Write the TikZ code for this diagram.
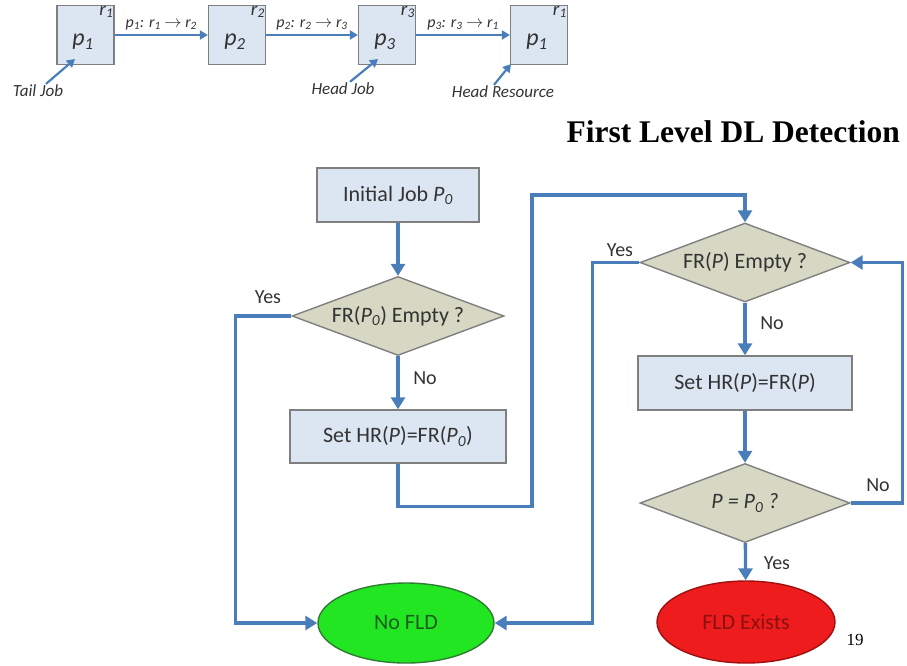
\documentclass[tikz,border=0pt]{standalone}
\usepackage{fontspec}
\setmainfont{Carlito}
\newfontfamily\titlefont{Liberation Serif}
\usetikzlibrary{arrows.meta,shapes.geometric,calc}
\definecolor{cblue}{HTML}{4A7EBB}
\definecolor{boxfill}{HTML}{DCE6F2}
\definecolor{boxline}{HTML}{7F7F7F}
\definecolor{dfill}{HTML}{D6D8C3}
\definecolor{gfill}{HTML}{22E622}
\definecolor{gline}{HTML}{2E7D32}
\definecolor{gtext}{HTML}{1B5E20}
\definecolor{rfill}{HTML}{EE1C1C}
\definecolor{rline}{HTML}{A01010}
\definecolor{rtext}{HTML}{8B1010}
\definecolor{ttext}{HTML}{333333}
\newcommand\isub[2]{\textit{#1}\textsubscript{\textit{#2}}}
\begin{document}
\begin{tikzpicture}[x=1pt,y=-1pt,
  pbox/.style={draw=boxline,fill=boxfill,line width=1.2pt,minimum width=57pt,minimum height=59pt,inner sep=0pt},
  fbox/.style={draw=boxline,fill=boxfill,line width=1.4pt,inner sep=0pt,text=ttext,font=\fontsize{22}{24}\selectfont},
  dbox/.style={diamond,draw=boxline,fill=dfill,line width=1.4pt,inner sep=0pt,minimum width=210pt,minimum height=79pt,shape aspect=2.7,text=ttext,font=\fontsize{22}{24}\selectfont},
  term/.style={ellipse,line width=1.4pt,inner sep=0pt,font=\fontsize{22}{24}\selectfont},
  conn/.style={draw=cblue,line width=3.3pt,-{Triangle[length=12pt,width=14pt]}},
  thin/.style={draw=cblue,line width=2.2pt,-{Triangle[length=8pt,width=9pt]}},
  lbl/.style={font=\fontsize{20}{24}\selectfont,text=ttext,inner sep=1pt},
  small/.style={font=\fontsize{16}{19}\selectfont\itshape,text=ttext,inner sep=1pt},
  rl/.style={font=\fontsize{19}{20}\selectfont,text=ttext,inner sep=1pt,anchor=north east},
  pl/.style={font=\fontsize{24}{26}\selectfont,text=ttext,inner sep=0pt}]
\useasboundingbox (0,0) rectangle (907,665);

% ---- top chain ----
\node[pbox] (b1) at (85.5,35) {};
\node[pbox] (b2) at (237,35) {};
\node[pbox] (b3) at (387,35) {};
\node[pbox] (b4) at (539,35) {};
\node[pl] (p1) at (83,42) {\isub{p}{1}};
\node[pl] (p2) at (235,42) {\isub{p}{2}};
\node[pl] (p3) at (385,42) {\isub{p}{3}};
\node[pl] (p4) at (537,42) {\isub{p}{1}};
\node[rl] (r1) at (b1.north east) {\isub{r}{1}};
\node[rl] (r2) at (b2.north east) {\isub{r}{2}};
\node[rl] (r3) at (b3.north east) {\isub{r}{3}};
\node[rl] (r4) at (b4.north east) {\isub{r}{1}};
\draw[thin] (b1.east) -- node[small,above=3pt] (l12) {\isub{p}{1}: \isub{r}{1} $\rightarrow$ \isub{r}{2}} (b2.west);
\draw[thin] (b2.east) -- node[small,above=3pt] (l23) {\isub{p}{2}: \isub{r}{2} $\rightarrow$ \isub{r}{3}} (b3.west);
\draw[thin] (b3.east) -- node[small,above=3pt] (l34) {\isub{p}{3}: \isub{r}{3} $\rightarrow$ \isub{r}{1}} (b4.west);
\node[small,font=\fontsize{17}{19}\selectfont\itshape] (tj) at (38,91) {Tail Job};
\node[small,font=\fontsize{17}{19}\selectfont\itshape] (hj) at (343,89) {Head Job};
\node[small,font=\fontsize{17}{19}\selectfont\itshape] (hr) at (503,92) {Head Resource};
\coordinate (tja) at (75,59);
\coordinate (hja) at (378,59);
\coordinate (hra) at (511,64);
\draw[thin] ($(tj.north)+(8,0)$) -- (tja);
\draw[thin] ($(hj.north)+(7,0)$) -- (hja);
\draw[thin] ($(hr.north)+(-9,0)$) -- (hra);

% ---- title ----
\node[anchor=base east,inner sep=0pt,font=\titlefont\bfseries\fontsize{31.5}{34}\selectfont] (title) at (900,142) {First Level DL Detection};

% ---- flowchart ----
\node[fbox,minimum width=162pt,minimum height=54pt] (init) at (398,195) {Initial Job \isub{P}{0}};
\node[dbox,minimum width=212pt] (d1) at (398,316) {FR(\isub{P}{0}) Empty ?};
\node[fbox,minimum width=216pt,minimum height=53pt] (set1) at (398,436.5) {Set HR(\textit{P})=FR(\isub{P}{0})};
\node[dbox] (d2) at (745,262.5) {FR(\textit{P}) Empty ?};
\node[fbox,minimum width=214pt,minimum height=54pt] (set2) at (745,383) {Set HR(\textit{P})=FR(\textit{P})};
\node[dbox] (d3) at (745,503) {\textit{P = P\textsubscript{0} ?}};
\node[term,draw=gline,fill=gfill,text=gtext,minimum width=176pt,minimum height=80pt] (nofld) at (406,623) {No FLD};
\node[term,draw=rline,fill=rfill,text=rtext,minimum width=178pt,minimum height=82pt] (fld) at (746,622) {FLD Exists};

\draw[conn] (init) -- (d1);
\draw[conn] (d1) -- (set1);
\draw[conn] (d1.west) -- ++(-56,0) |- (nofld.west);
\draw[conn] (set1.south) -- ++(0,43) -| (532,195) -| (d2.north);
\draw[conn] (d2.west) -- ++(-47,0) |- (nofld.east);
\draw[conn] (d2) -- (set2);
\draw[conn] (set2) -- (d3);
\draw[conn] (d3) -- (fld);
\draw[conn] (d3.east) -- ++(52,0) |- (d2.east);

\node[lbl] (y1) at (268,297) {Yes};
\node[lbl] (n1) at (425,378) {No};
\node[lbl] (y2) at (620,250) {Yes};
\node[lbl] (n2) at (772,323) {No};
\node[lbl] (n3) at (878,485) {No};
\node[lbl] (y3) at (777,563) {Yes};
\node[inner sep=0pt,font=\titlefont\fontsize{17}{19}\selectfont] (pg) at (855,640) {19};
\end{tikzpicture}
\end{document}
